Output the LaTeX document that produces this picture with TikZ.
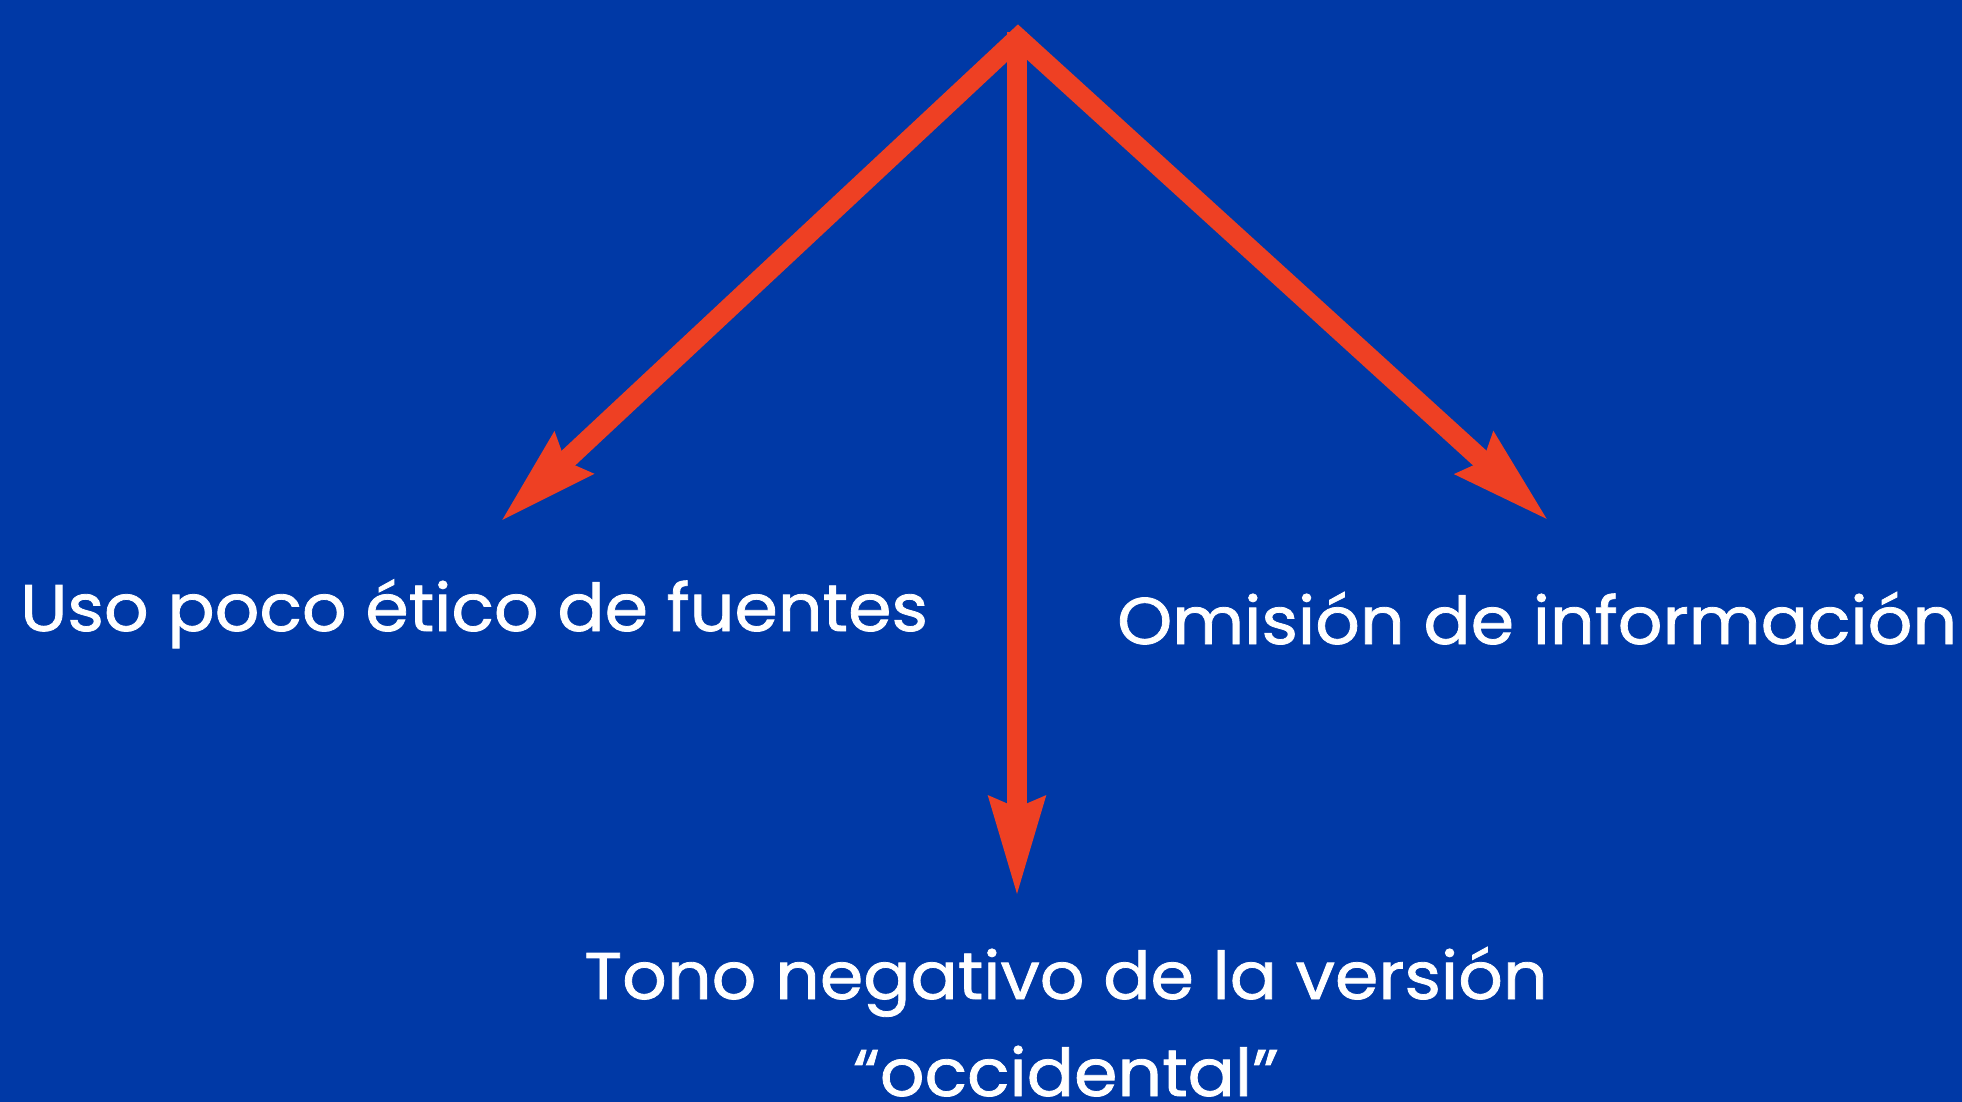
\documentclass[tikz,border=0pt]{standalone}
\usepackage{fontspec}
\setmainfont{Poppins}[FakeStretch=1.06, FakeBold=1.2]
\usetikzlibrary{arrows.meta}
\definecolor{bgblue}{HTML}{0039A6}
\definecolor{arrred}{HTML}{EE4023}
\tikzset{
  arr/.style={draw=arrred, line width=20pt, -{Stealth[length=98pt, width=53pt, inset=9pt]}},
  lbl/.style={text=white, font=\fontsize{66}{80}\selectfont, inner sep=0pt}
}
\begin{document}
\begin{tikzpicture}[x=1pt,y=-1pt]
\fill[bgblue] (0,0) rectangle (1962,1102);
\useasboundingbox (0,0) rectangle (1962,1102);
\coordinate (apex) at (1018,38);
\coordinate (top) at (1017,32);
\coordinate (ltip) at (500,522);
\coordinate (rtip) at (1549,521);
\coordinate (dtip) at (1017,897);
\draw[arrred, line width=20pt, miter limit=10, {Stealth[length=98pt, width=53pt, inset=9pt]}-{Stealth[length=98pt, width=53pt, inset=9pt]}] (ltip) -- (apex) -- (rtip);
\draw[arr] (top) -- (dtip);
\node[lbl, anchor=base west] (uso) at (20,631) {Uso poco ético de fuentes};
\node[lbl, anchor=base west] (omi) at (1117,644) {Omisión de información};
\node[lbl, anchor=base] (tono) at (1066,999) {Tono negativo de la versión};
\node[lbl, anchor=base] (occ) at (1066,1096) {“occidental”};
\end{tikzpicture}
\end{document}
